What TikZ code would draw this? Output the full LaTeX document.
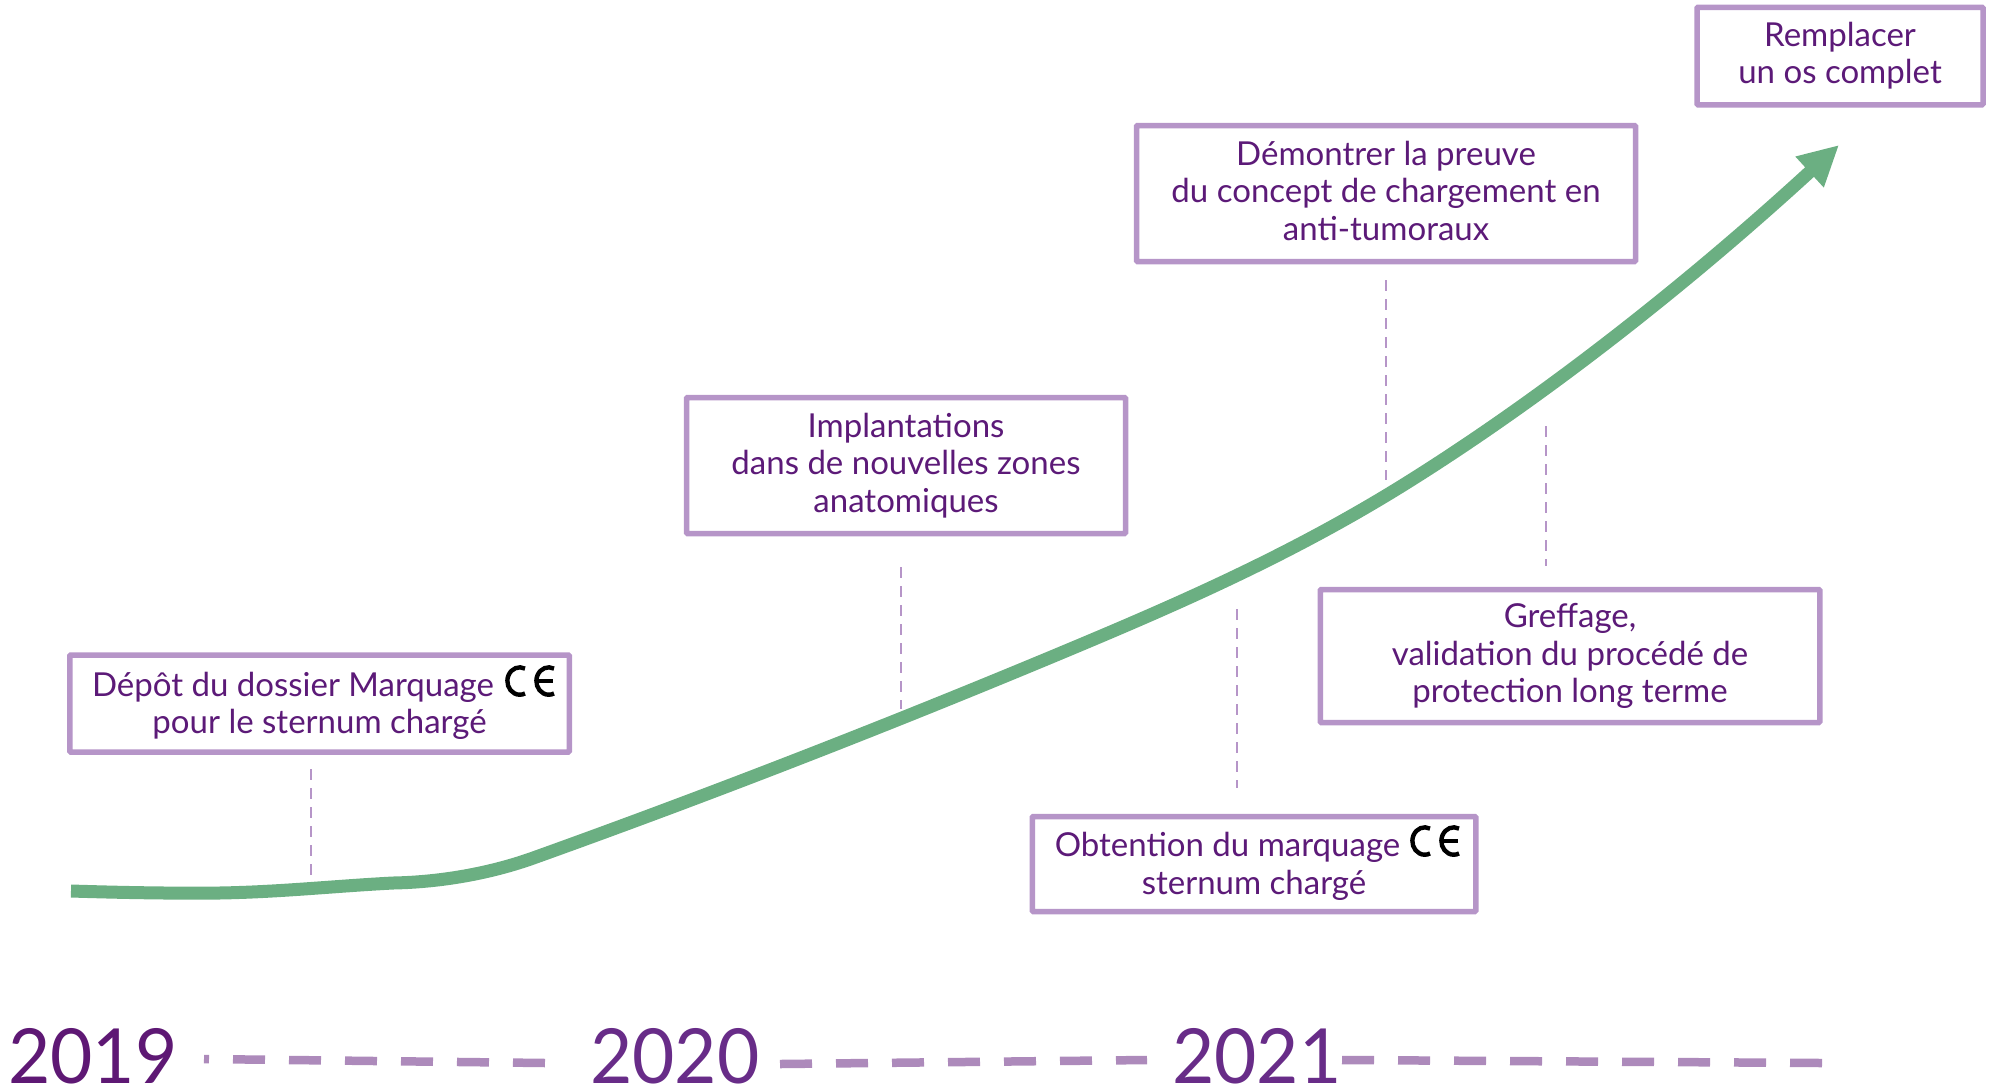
\documentclass[tikz,border=0pt]{standalone}
\usepackage{fontspec}
\setmainfont{Lato}
\usetikzlibrary{arrows.meta}
\definecolor{boxline}{HTML}{B695C8}
\definecolor{txtpurple}{HTML}{5C1A78}
\definecolor{yeardark}{HTML}{5E1874}
\definecolor{yearlight}{HTML}{682C88}
\definecolor{dashpurple}{HTML}{AD8ABB}
\definecolor{curvegreen}{HTML}{6BAF82}
\tikzset{
  mbox/.style={draw=boxline,line width=5.5pt,rounded corners=1pt,fill=white,inner sep=0pt,
    text=txtpurple,align=center,text depth=6pt,font=\fontsize{33}{37.5}\selectfont},
  vdash/.style={draw=boxline,line width=2.7pt,dash pattern=on 11pt off 8pt},
  hdash/.style={draw=dashpurple,line width=8.5pt,dash pattern=on 32pt off 24pt},
  yearlabel/.style={anchor=base west,inner sep=0pt,xscale=0.96,font=\fontsize{76}{80}\selectfont},
  cemark/.pic={
    \draw[line width=4.4pt,black,line cap=butt] (8,-12.4) arc[x radius=12.4,y radius=13.7,start angle=-65,end angle=-295];
    \draw[line width=4.4pt,black,line cap=butt] (37,-12.4) arc[x radius=12.4,y radius=13.7,start angle=-65,end angle=-295];
    \draw[line width=3.4pt,black] (21,0) -- (36,0);
  }
}
\begin{document}
\begin{tikzpicture}[x=1pt,y=-1pt]
\useasboundingbox (0,0) rectangle (1993,1088);
% curve
\coordinate (cstart) at (71,891);
\coordinate (c1) at (219,893);
\coordinate (c2) at (393,883);
\coordinate (c3) at (536,857);
\coordinate (c4) at (1080,645);
\coordinate (c5) at (1400,487);
\coordinate (ctip) at (1839,145);
\draw[curvegreen,line width=13pt,-{Triangle[length=40pt,width=39pt]}]
  (cstart) .. controls (120,892.5) and (170,893.5) .. (c1)
  .. controls (280,892) and (335,886) .. (c2)
  .. controls (445,882) and (495,872) .. (c3)
  .. controls (717,792) and (899,721) .. (c4)
  .. controls (1187,600) and (1293,553) .. (c5)
  .. controls (1546,396.5) and (1693,279) .. (ctip);
% boxes
\node[mbox,minimum width=499.5pt,minimum height=97pt,text depth=1pt] (b1) at (319.5,703.5) {Dépôt du dossier Marquage\hspace*{53pt}\\pour le sternum chargé};
\node[mbox,minimum width=439pt,minimum height=136pt] (b2) at (906,465.5) {Implantations\\dans de nouvelles zones\\anatomiques};
\node[mbox,minimum width=499pt,minimum height=136pt] (b3) at (1386,193.5) {Démontrer la preuve\\du concept de chargement en\\anti-tumoraux};
\node[mbox,minimum width=499.5pt,minimum height=133pt] (b4) at (1570,656) {Greffage,\\validation du procédé de\\protection long terme};
\node[mbox,minimum width=443.5pt,minimum height=95pt,text depth=1pt] (b5) at (1254,864) {Obtention du marquage\hspace*{53pt}\\sternum chargé};
\node[mbox,minimum width=286pt,minimum height=97.5pt] (b6) at (1840,56) {Remplacer\\un os complet};
% CE marks
\pic at (517,681) {cemark};
\pic at (1422,841) {cemark};
% vertical dashed connectors
\coordinate (v1a) at (311,769); \coordinate (v1b) at (311,875);
\coordinate (v2a) at (901,567); \coordinate (v2b) at (901,709);
\coordinate (v3a) at (1386,280); \coordinate (v3b) at (1386,480);
\coordinate (v4a) at (1546,426); \coordinate (v4b) at (1546,566);
\coordinate (v5a) at (1237,609); \coordinate (v5b) at (1237,788);
\foreach \p/\q in {v1a/v1b,v2a/v2b,v3a/v3b,v4a/v4b,v5a/v5b} \draw[vdash] (\p) -- (\q);
% timeline
\node[yearlabel,text=yeardark] (y19) at (8,1083) {2019};
\node[yearlabel,text=yearlight] (y20) at (590,1083) {2020};
\node[yearlabel,text=yearlight] (y21) at (1172,1083) {2021};
\coordinate (h1a) at (204,1059); \coordinate (h1b) at (546,1063);
\coordinate (h2a) at (780,1064); \coordinate (h2b) at (1147,1060);
\coordinate (h3a) at (1342,1060); \coordinate (h3b) at (1822,1063);
\draw[hdash,dash phase=27pt] (h1a) -- (h1b);
\draw[hdash] (h2a) -- (h2b);
\draw[hdash] (h3a) -- (h3b);
\end{tikzpicture}
\end{document}
